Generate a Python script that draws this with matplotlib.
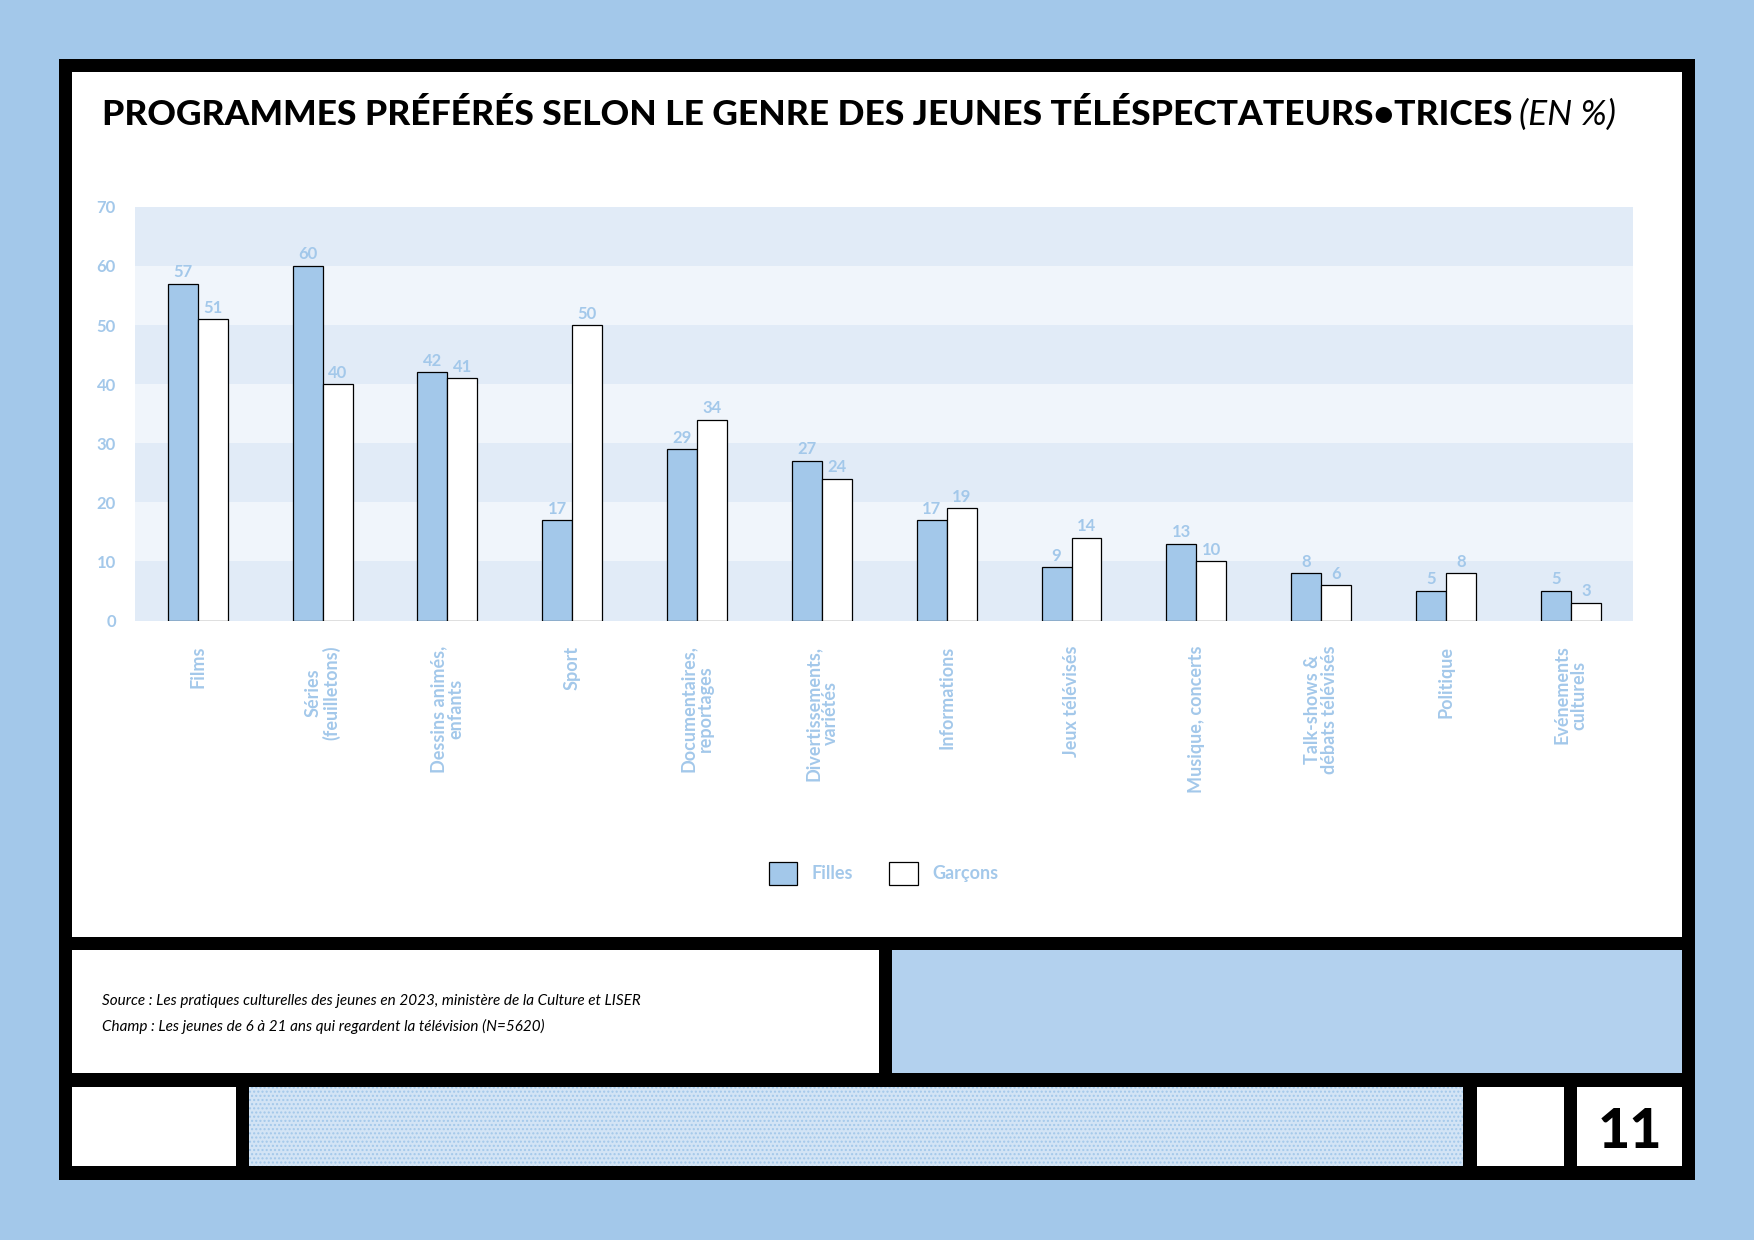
import matplotlib.pyplot as plt
import matplotlib.patches as mpatches
import numpy as np

categories = ['Films', 'Séries\n(feuilletons)', 'Dessins animés,\nenfants', 'Sport',
              'Documentaires,\nreportages', 'Divertissements,\nvariétés', 'Informations',
              'Jeux télévisés', 'Musique, concerts', 'Talk-shows &\ndébats télévisés',
              'Politique', 'Evénements\nculturels']
filles = [57, 60, 42, 17, 29, 27, 17, 9, 13, 8, 5, 5]
garcons = [51, 40, 41, 50, 34, 24, 19, 14, 10, 6, 8, 3]
yticks = [0, 10, 20, 30, 40, 50, 60, 70]

BLUE = '#a3c8ea'
LIGHT = '#b3d1ee'
W, H = 1568, 1109

plt.rcParams['font.family'] = ['Lato', 'DejaVu Sans']

fig = plt.figure(figsize=(17.54, 12.4), dpi=100)
fig.patch.set_facecolor(BLUE)


def box(x0, y0, x1, y1, color, **kw):
    fig.patches.append(mpatches.Rectangle((x0 / W, 1 - y1 / H), (x1 - x0) / W, (y1 - y0) / H,
                                          transform=fig.transFigure, facecolor=color,
                                          edgecolor='none', zorder=-10, **kw))


# frames
box(53, 53, 1515, 1055, 'black')
box(64, 64, 1504, 838, 'white')
box(64, 850, 786, 960, 'white')
box(797, 850, 1504, 960, LIGHT)
box(64, 972, 211, 1043, 'white')
box(223, 972, 1308, 1043, '#d3e4f5')
fig.patches.append(mpatches.Rectangle((223 / W, 1 - 1043 / H), 1085 / W, 71 / H,
                                      transform=fig.transFigure, facecolor='none', zorder=-9,
                                      edgecolor=BLUE, hatch='....', linewidth=0))
box(1320, 972, 1398, 1043, 'white')
box(1410, 972, 1504, 1043, 'white')
fig.text(1457 / W, 1 - 1012 / H, '11', fontsize=40, fontweight='black', ha='center', va='center')

# title
t = fig.text(91 / W, 1 - 103 / H, 'PROGRAMMES PRÉFÉRÉS SELON LE GENRE DES JEUNES TÉLÉSPECTATEURS•TRICES',
             fontsize=25.5, fontweight='black', va='center')
fig.canvas.draw()
bb = t.get_window_extent().transformed(fig.transFigure.inverted())
fig.text(bb.x1 + 0.004, 1 - 103 / H, '(EN %)', fontsize=25.5, style='italic', va='center')

# source
fig.text(91 / W, 1 - 895 / H, 'Source : Les pratiques culturelles des jeunes en 2023, ministère de la Culture et LISER',
         fontsize=11, style='italic', va='center')
fig.text(91 / W, 1 - 918 / H, 'Champ : Les jeunes de 6 à 21 ans qui regardent la télévision (N=5620)',
         fontsize=11, style='italic', va='center')

# chart
ax = fig.add_axes([121 / W, 1 - 555 / H, (1460 - 121) / W, (555 - 185) / H])
ax.set_zorder(5)
ax.patch.set_alpha(0)
for i in range(7):
    ax.axhspan(i * 10, i * 10 + 10, color='#e1ebf7' if i % 2 == 0 else '#f0f5fb', zorder=0, lw=0)
x = np.arange(len(categories))
bw = 0.24
ax.bar(x - bw / 2, filles, bw, color=BLUE, edgecolor='black', linewidth=0.9, zorder=2, label='Filles')
ax.bar(x + bw / 2, garcons, bw, color='white', edgecolor='black', linewidth=0.9, zorder=2, label='Garçons')
for xi, f, g in zip(x, filles, garcons):
    ax.text(xi - bw / 2, f + 0.6, str(f), ha='center', va='bottom', color=BLUE, fontsize=12, fontweight='bold')
    ax.text(xi + bw / 2, g + 0.6, str(g), ha='center', va='bottom', color=BLUE, fontsize=12, fontweight='bold')
ax.set_xlim(-0.5, len(categories) - 0.5)
ax.set_ylim(0, 70)
ax.set_yticks(yticks)
ax.set_yticklabels([str(v) for v in yticks], color=BLUE, fontsize=12, fontweight='bold')
ax.set_xticks(x)
ax.set_xticklabels(categories, rotation=90, va='top', ha='center', color=BLUE, fontsize=13,
                   fontweight='bold', linespacing=1.0)
ax.tick_params(length=0, pad=18)
ax.tick_params(axis='y', pad=14)
for s in ax.spines.values():
    s.set_visible(False)

leg = fig.legend(loc='center', bbox_to_anchor=(790 / W, 1 - 781 / H), ncol=2, frameon=False,
                 fontsize=13, handlelength=1.6, handleheight=1.6, columnspacing=2.0)
for txt in leg.get_texts():
    txt.set_color(BLUE)
    txt.set_fontweight('bold')

fig.savefig('out.png', dpi=100, facecolor=fig.get_facecolor())
